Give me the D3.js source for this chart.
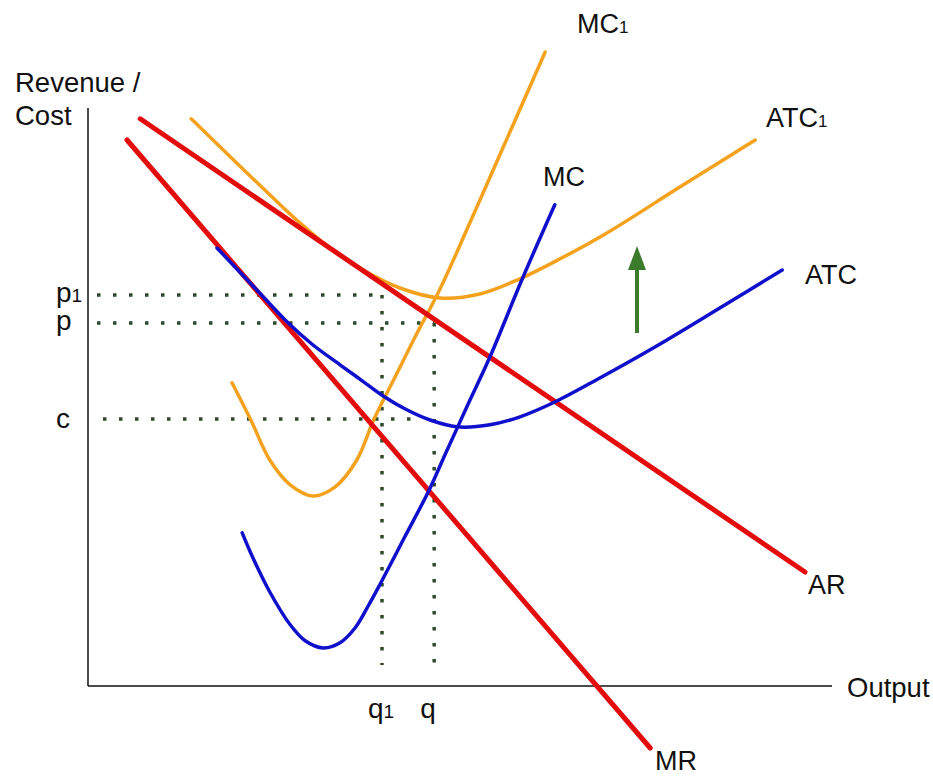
<!DOCTYPE html>
<html><head><meta charset="utf-8">
<script src="https://cdn.jsdelivr.net/npm/d3@7"></script>
<style>
html,body{margin:0;padding:0;background:#fff;}
svg{display:block;font-family:"Liberation Sans",Arial,sans-serif;}
</style></head>
<body><svg id="c" width="933" height="778"></svg>
<script>
// Conceptual units: output (x) 0..124, revenue/cost (y) 0..142
const AR  = [[8.7,141.8],[119.5,28.5]];
const MR  = [[6.5,136.5],[93.7,-15.5]];
const MC1 = [[24,75.8],[27.2,66.3],[30.3,56.5],[33.7,50.3],[37.5,47.5],[41.2,49.8],[44.8,56.5],[47.7,66.8],[51.2,77.3],[54.7,87.8],[58.2,97.8],[61.2,107.5],[68.7,133],[76.2,158.5]];
const ATC1 = [[17.2,141.8],[23.7,132.3],[30.3,122.8],[35.3,115.8],[40.3,109.5],[45.3,104.5],[52,99.5],[58.7,97],[65.3,98],[72,101.8],[78.7,106.8],[86.2,113],[98.7,124.8],[111.2,136.5]];
const MC  = [[25.7,38.3],[27.5,32],[30.3,23.5],[33.7,15.3],[36.2,11.3],[39.2,9.5],[42,10.8],[44.5,14.5],[46.7,20],[48.7,25.5],[52.8,37.3],[56.7,48.5],[59.5,57.8],[63.3,70.3],[67,82.3],[72.3,101.5],[77.8,120.3]];
const ATC = [[21.5,109.5],[25.3,103.5],[29.2,97.3],[33.2,91],[37.3,85.5],[42,80.3],[45.7,76.3],[49.2,72.5],[52.8,69.3],[57,66.5],[61.5,64.8],[67,65.3],[72,67.3],[77.8,71],[85.3,77],[94.2,84.5],[105.3,94.5],[115.7,104]];
const priceLevels = [{name:"p", sub:"1", y:97.75, x0:1.5, x1:49},{name:"p", sub:"", y:90.75, x0:1.5, x1:57.7},{name:"c", sub:"", y:66.75, x0:2.5, x1:55.3}];
const quantities = [{name:"q", sub:"1", x:49, y0:97.75, y1:5.25},{name:"q", sub:"", x:57.7, y0:90.75, y1:2.75}];
const shiftArrow = {x:91.5, y0:88.25, y1:110};

const svg = d3.select("#c");
const x = d3.scaleLinear().domain([0,124]).range([88,832]);
const y = d3.scaleLinear().domain([0,142]).range([686,118]);

const RED="#e30b0b", ORANGE="#f4a21e", BLUE="#1010cc", DOT="#2c4a2c", GREEN="#3c7a2c";

// axes
svg.append("line").attr("x1",x(0)).attr("x2",x(0)).attr("y1",y(0)).attr("y2",y(144.5)).attr("stroke","#111").attr("stroke-width",1.5);
svg.append("line").attr("x1",x(0)).attr("x2",x(124)).attr("y1",y(0)).attr("y2",y(0)).attr("stroke","#111").attr("stroke-width",1.5);

// dotted guides
svg.selectAll(".ph").data(priceLevels).join("line")
  .attr("x1",d=>x(d.x0)).attr("x2",d=>x(d.x1)).attr("y1",d=>y(d.y)).attr("y2",d=>y(d.y))
  .attr("stroke",DOT).attr("stroke-width",3.5).attr("stroke-dasharray","3.5 12.5");
svg.selectAll(".qv").data(quantities).join("line")
  .attr("x1",d=>x(d.x)).attr("x2",d=>x(d.x)).attr("y1",d=>y(d.y0)).attr("y2",d=>y(d.y1))
  .attr("stroke",DOT).attr("stroke-width",3.5).attr("stroke-dasharray","3.5 12.5");

const line = d3.line().x(d=>x(d[0])).y(d=>y(d[1])).curve(d3.curveCatmullRom.alpha(0.5));
function draw(data,color,w){
  svg.append("path").attr("d",line(data)).attr("fill","none").attr("stroke",color).attr("stroke-width",w).attr("stroke-linecap","round");
}
draw(ATC1,ORANGE,3.5);
draw(MC1,ORANGE,3.5);
draw(AR,RED,5);
draw(MR,RED,5);
draw(ATC,BLUE,3.5);
draw(MC,BLUE,3.5);

// arrow
svg.append("line").attr("x1",x(shiftArrow.x)).attr("x2",x(shiftArrow.x)).attr("y1",y(shiftArrow.y0)).attr("y2",y(shiftArrow.y1)+18)
  .attr("stroke",GREEN).attr("stroke-width",4);
svg.append("path").attr("d",`M${x(shiftArrow.x)},${y(shiftArrow.y1)} l9,24 l-18,0 z`).attr("fill",GREEN);

// labels
function label(txt,sub,px,py,size,subSize){
  const t = svg.append("text").attr("x",px).attr("y",py).attr("font-size",size).attr("fill","#111");
  t.append("tspan").text(txt);
  if(sub) t.append("tspan").attr("font-size",subSize).text(sub);
}
label("Revenue /","",15,92,27.5);
label("Cost","",15,125,27.5);
label("Output","",847,697,27.5);
label("MC","1",577,33,27,17);
label("ATC","1",766,127,27,17);
label("MC","",543,186,27);
label("ATC","",805,284,27);
label("AR","",808,594,27);
label("MR","",655,770,27);
priceLevels.forEach(d=>label(d.name,d.sub, 56, y(d.y)+ (d.name==="c"?9:7), 28, 19));
quantities.forEach(d=>label(d.name,d.sub, x(d.x)-14, 718, 28, 19));
</script></body></html>
